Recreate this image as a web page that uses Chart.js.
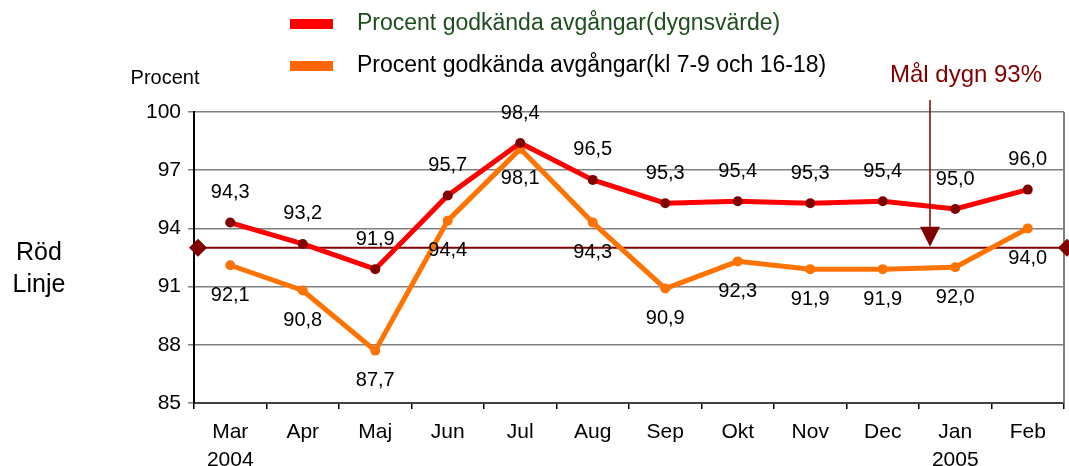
<!DOCTYPE html>
<html>
<head>
<meta charset="utf-8">
<script src="https://cdn.jsdelivr.net/npm/chart.js@4.4.1/dist/chart.umd.min.js"></script>
<style>
  html, body { margin: 0; padding: 0; background: #fff; }
  #wrap { position: relative; width: 1069px; height: 466px; }
</style>
</head>
<body>
<div id="wrap"><canvas id="chart"></canvas></div>
<script>
/* ─── Data ─── */
const months    = [["Mar", "2004"], "Apr", "Maj", "Jun", "Jul", "Aug", "Sep", "Okt", "Nov", "Dec", ["Jan", "2005"], "Feb"];
const dailyPct  = [94.3, 93.2, 91.9, 95.7, 98.4, 96.5, 95.3, 95.4, 95.3, 95.4, 95.0, 96.0];
const peakPct   = [92.1, 90.8, 87.7, 94.4, 98.1, 94.3, 90.9, 92.3, 91.9, 91.9, 92.0, 94.0];
const seriesNames = ["Procent godkända avgångar(dygnsvärde)", "Procent godkända avgångar(kl 7-9 och 16-18)"];
const yMin = 85, yMax = 100, yStep = 3;
const goalPct   = 93;
const goalText  = "Mål dygn 93%";

const FONT = "'Liberation Sans', Arial, sans-serif";
const RED = "#FF0000", DARKRED = "#800000", ORANGE = "#FF7300";

/* ─── Extras drawn on the canvas ─── */
const extras = {
  id: "extras",
  beforeDatasetsDraw(chart) {
    const { ctx, chartArea: a, scales: { y } } = chart;
    const gy = y.getPixelForValue(goalPct);
    ctx.save();
    // right frame
    ctx.strokeStyle = "#808080"; ctx.lineWidth = 2;
    ctx.beginPath(); ctx.moveTo(a.right, a.top); ctx.lineTo(a.right, a.bottom); ctx.stroke();
    // goal line
    ctx.strokeStyle = DARKRED; ctx.lineWidth = 2;
    ctx.beginPath(); ctx.moveTo(a.left, gy); ctx.lineTo(a.right, gy); ctx.stroke();
    ctx.fillStyle = DARKRED;
    [a.left + 4, a.right + 3].forEach(x => {
      ctx.beginPath();
      ctx.moveTo(x, gy - 9); ctx.lineTo(x + 9, gy); ctx.lineTo(x, gy + 9); ctx.lineTo(x - 9, gy);
      ctx.closePath(); ctx.fill();
    });
    ctx.restore();
  },
  afterDatasetsDraw(chart) {
    const { ctx, scales: { y } } = chart;
    ctx.save();
    /* value labels */
    ctx.font = "20px " + FONT;
    ctx.fillStyle = "#000";
    ctx.textAlign = "center"; ctx.textBaseline = "middle";
    chart.data.datasets.forEach((ds, i) => {
      chart.getDatasetMeta(i).data.forEach((pt, j) => {
        const dy = i === 0 ? -30 : 30;
        ctx.fillText(ds.data[j].toFixed(1).replace(".", ","), pt.x, pt.y + dy);
      });
    });

    /* goal arrow */
    const ax = 930;
    const tip = y.getPixelForValue(goalPct) - 1;
    ctx.strokeStyle = DARKRED; ctx.fillStyle = DARKRED; ctx.lineWidth = 1.5;
    ctx.beginPath(); ctx.moveTo(ax, 100); ctx.lineTo(ax, tip - 18); ctx.stroke();
    ctx.beginPath(); ctx.moveTo(ax - 10, tip - 20); ctx.lineTo(ax + 10, tip - 20); ctx.lineTo(ax, tip); ctx.closePath(); ctx.fill();
    ctx.font = "24px " + FONT;
    ctx.fillText(goalText, 966, 75);

    /* legend */
    const legendColors = [RED, "#FF6600"];
    const textColors = ["#1E4E1E", "#000"];
    [24, 66].forEach((ly, i) => {
      ctx.fillStyle = legendColors[i];
      ctx.fillRect(290, ly - 5, 43, 10);
      ctx.fillStyle = textColors[i];
      ctx.font = "23px " + FONT;
      ctx.textAlign = "left";
      ctx.fillText(seriesNames[i], 357, ly);
    });

    /* axis captions */
    ctx.fillStyle = "#000";
    ctx.textAlign = "center";
    ctx.font = "20px " + FONT;
    ctx.fillText("Procent", 165, 78);
    ctx.font = "25px " + FONT;
    ctx.fillText("Röd", 39, 253);
    ctx.fillText("Linje", 39, 285);
    ctx.restore();
  }
};

/* ─── Chart ─── */
new Chart(document.getElementById("chart"), {
  type: "line",
  data: {
    labels: months,
    datasets: [
      {
        label: seriesNames[0],
        data: dailyPct,
        borderColor: RED, borderWidth: 5,
        pointBackgroundColor: DARKRED, pointBorderColor: DARKRED,
        pointRadius: 5, pointBorderWidth: 0,
        tension: 0,
      },
      {
        label: seriesNames[1],
        data: peakPct,
        borderColor: ORANGE, borderWidth: 5,
        pointBackgroundColor: ORANGE, pointBorderColor: ORANGE,
        pointRadius: 5, pointBorderWidth: 0,
        tension: 0,
      },
    ],
  },
  options: {
    responsive: true, maintainAspectRatio: false,
    animation: false,
    layout: { padding: { top: 112, right: 4, left: 0, bottom: 0 } },
    plugins: { legend: { display: false }, tooltip: { enabled: false } },
    scales: {
      x: {
        offset: true,
        grid: { offset: true, drawOnChartArea: false, drawTicks: true, tickLength: 6, color: "#000", lineWidth: 1.5 },
        border: { color: "#404040", width: 2 },
        ticks: { color: "#000", font: { family: FONT, size: 21, lineHeight: 1.3 }, padding: 10, maxRotation: 0, autoSkip: false },
        afterFit(s) { s.height = 63; },
      },
      y: {
        min: yMin, max: yMax,
        grid: { color: "#808080", lineWidth: 1.5, tickLength: 6 },
        border: { color: "#000", width: 2 },
        ticks: { stepSize: yStep, color: "#000", font: { family: FONT, size: 21 }, padding: 7 },
        afterFit(s) { s.width = 194; },
      },
    },
  },
  plugins: [extras],
});
</script>
</body>
</html>
